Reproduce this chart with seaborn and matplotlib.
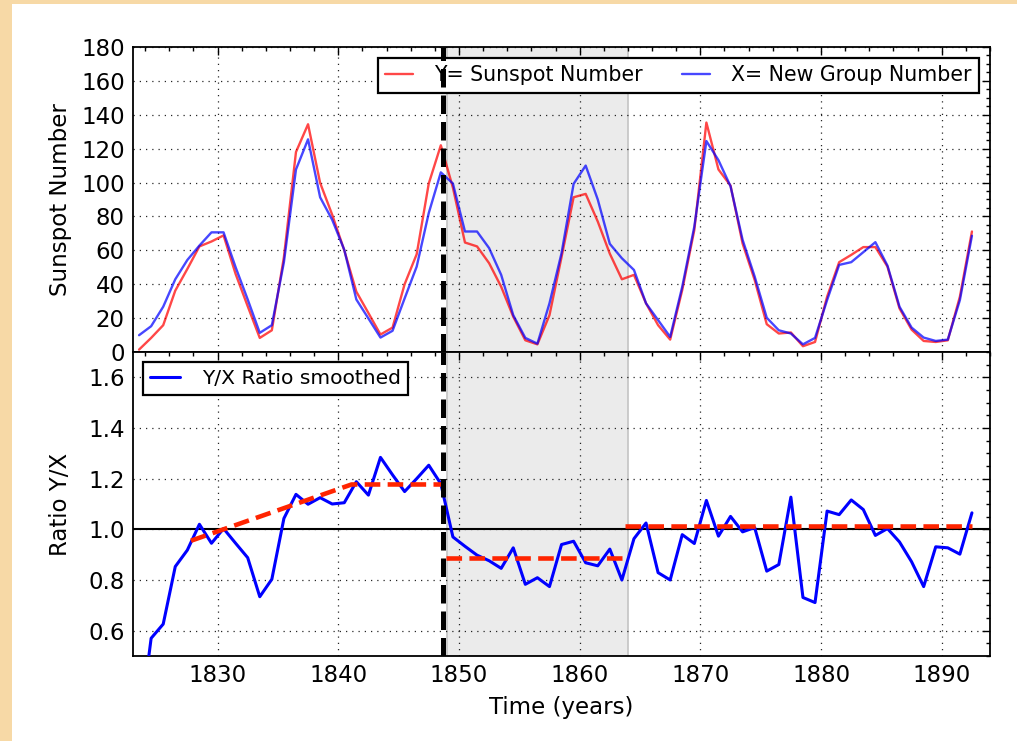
import numpy as np
import matplotlib
matplotlib.use("Agg")
import matplotlib.pyplot as plt
import seaborn as sns
from matplotlib.ticker import MultipleLocator, FormatStrFormatter
from matplotlib.patches import Rectangle

# ---------------- data (annual means, plotted at mid-year) ----------------
years = np.arange(1823, 1893) + 0.5

sunspot_y = [1.4, 8.3, 15.8, 36.2, 49.0, 62.3, 65.2, 68.8, 46.0, 27.0,
             8.3, 12.8, 56.0, 118.0, 134.4, 99.8, 81.0, 60.0, 35.6, 23.0,
             10.3, 14.4, 40.0, 57.7, 99.4, 122.0, 97.0, 64.6, 62.3, 52.4,
             38.5, 20.8, 6.9, 4.5, 21.7, 56.0, 91.3, 93.3, 77.0, 58.0,
             42.9, 45.5, 28.7, 15.8, 7.3, 36.6, 72.0, 135.4, 107.7, 98.2,
             64.0, 42.5, 16.4, 10.9, 11.5, 3.4, 5.9, 32.6, 53.0, 57.3,
             61.9, 61.9, 50.4, 25.7, 13.2, 6.5, 5.9, 6.9, 32.6, 71.1]

group_x = [9.9, 15.2, 26.7, 42.9, 54.3, 62.8, 70.6, 70.6, 50.0, 31.0,
           11.3, 15.8, 53.0, 107.7, 125.5, 91.3, 78.0, 60.3, 31.0, 19.8,
           8.5, 12.5, 31.6, 50.4, 82.0, 106.0, 99.4, 71.1, 71.1, 61.3,
           45.5, 21.7, 8.3, 4.9, 28.7, 58.3, 99.2, 110.0, 90.0, 63.8,
           55.3, 48.4, 28.7, 18.8, 8.9, 38.5, 74.0, 124.5, 113.2, 97.8,
           66.2, 44.5, 20.2, 12.8, 10.9, 4.5, 8.3, 30.6, 51.4, 53.0,
           58.9, 64.8, 51.0, 26.7, 14.4, 8.5, 6.5, 7.3, 30.6, 68.6]

ratio_smoothed = [0.20, 0.57, 0.626, 0.853, 0.918, 1.02, 0.945, 1.003, 0.945, 0.888,
                  0.734, 0.803, 1.043, 1.138, 1.099, 1.125, 1.10, 1.105, 1.188, 1.135,
                  1.284, 1.215, 1.149, 1.20, 1.253, 1.18, 0.97, 0.933, 0.898, 0.876,
                  0.846, 0.927, 0.783, 0.809, 0.774, 0.94, 0.953, 0.868, 0.856, 0.922,
                  0.80, 0.963, 1.025, 0.829, 0.80, 0.979, 0.944, 1.114, 0.973, 1.051,
                  0.99, 1.007, 0.835, 0.861, 1.127, 0.731, 0.711, 1.072, 1.058, 1.116,
                  1.078, 0.976, 1.003, 0.95, 0.872, 0.774, 0.931, 0.927, 0.902, 1.065]

trend_rise_years = [1827.8, 1841.1, 1848.7]
trend_rise_vals = [0.955, 1.177, 1.177]
trend_mid_years = [1848.9, 1863.7]
trend_mid_vals = [0.888, 0.888]
trend_late_years = [1863.75, 1892.5]
trend_late_vals = [1.012, 1.012]

break_year = 1848.7
shade_start, shade_end = 1849, 1864

x_ticks_major, x_ticks_minor = 10, 2

# ---------------- style ----------------
sns.set_theme(style="white")
plt.rcParams.update({
    "axes.edgecolor": "black",
    "axes.linewidth": 1.3,
    "xtick.color": "black",
    "ytick.color": "black",
    "text.color": "black",
    "axes.labelcolor": "black",
})
plt.rcParams["font.family"] = ["DejaVu Sans"]

FS = 16.5

fig = plt.figure(figsize=(10.17, 7.41), dpi=100, facecolor="#f7d9a6")
panel = Rectangle((12 / 1017, 0), 1 - 12 / 1017, 737 / 741,
                  transform=fig.transFigure, facecolor="white",
                  edgecolor="none", zorder=-5)
fig.add_artist(panel)

ax1 = fig.add_axes([0.1308, 0.525, 0.8427, 0.4116])
ax2 = fig.add_axes([0.1308, 0.1147, 0.8427, 0.4103], sharex=ax1)

for ax in (ax1, ax2):
    ax.set_facecolor("white")
    ax.axvspan(shade_start, shade_end, facecolor="#ebebeb",
               edgecolor="#c4c4c4", lw=1.2, zorder=0.2)
    ax.axvline(break_year, color="black", lw=3.6, linestyle="--",
               zorder=10)
    ax.grid(True, which="major", linestyle=(0, (1, 4)), color="black",
            lw=0.9, alpha=0.85)
    ax.tick_params(which="both", direction="in", top=True, right=True,
                   labelsize=FS)
    ax.tick_params(which="major", length=5.5, width=1.0, pad=6)
    ax.tick_params(which="minor", length=3, width=1.0)
    for s in ax.spines.values():
        s.set_linewidth(1.3)
        s.set_color("black")

# ---------------- top panel ----------------
sns.lineplot(x=years, y=sunspot_y, ax=ax1, color="red", alpha=0.72, lw=1.7,
             label="Y= Sunspot Number", zorder=3)
sns.lineplot(x=years, y=group_x, ax=ax1, color="blue", alpha=0.72, lw=1.7,
             label="X= New Group Number", zorder=3)
ax1.set_ylim(0, 180)
ax1.yaxis.set_major_locator(MultipleLocator(20))
ax1.yaxis.set_minor_locator(MultipleLocator(5))
ax1.set_ylabel("Sunspot Number", fontsize=FS)
ax1.tick_params(labelbottom=False)
ax1.set_xlabel("")
leg1 = ax1.legend(loc="upper right", ncol=2, fontsize=14.8, frameon=True,
                  fancybox=False, edgecolor="black", framealpha=1,
                  handlelength=1.4, handletextpad=1.0, columnspacing=1.9,
                  borderpad=0.35, borderaxespad=0.55)
leg1.get_frame().set_linewidth(1.6)

# ---------------- bottom panel ----------------
ax2.axhline(1.0, color="black", lw=1.5, zorder=2)
sns.lineplot(x=years, y=ratio_smoothed, ax=ax2, color="blue", lw=2.2,
             label="Y/X Ratio smoothed", zorder=3)
for tx, ty in ((trend_rise_years, trend_rise_vals),
               (trend_mid_years, trend_mid_vals),
               (trend_late_years, trend_late_vals)):
    ax2.plot(tx, ty, color="#ff2400", lw=3.3, linestyle=(0, (3.4, 1.6)),
             zorder=4)
ax2.set_ylim(0.5, 1.7)
ax2.yaxis.set_major_locator(MultipleLocator(0.2))
ax2.yaxis.set_minor_locator(MultipleLocator(0.05))
ax2.yaxis.set_major_formatter(FormatStrFormatter("%.1f"))
ax2.set_ylabel("Ratio Y/X", fontsize=FS)
ax2.set_xlabel("Time (years)", fontsize=FS, labelpad=6)
leg2 = ax2.legend(loc="upper left", fontsize=14.6, frameon=True,
                  fancybox=False, edgecolor="black", framealpha=1,
                  handlelength=1.45, handletextpad=1.1, borderpad=0.35,
                  borderaxespad=0.5)
leg2.get_frame().set_linewidth(1.6)

ax2.set_xlim(1823, 1894)
ax2.xaxis.set_major_locator(MultipleLocator(x_ticks_major))
ax2.xaxis.set_minor_locator(MultipleLocator(x_ticks_minor))

for ax in (ax1, ax2):
    ax.yaxis.set_label_coords(-0.071, 0.5)

fig.savefig("out.png", dpi=100, facecolor=fig.get_facecolor())
